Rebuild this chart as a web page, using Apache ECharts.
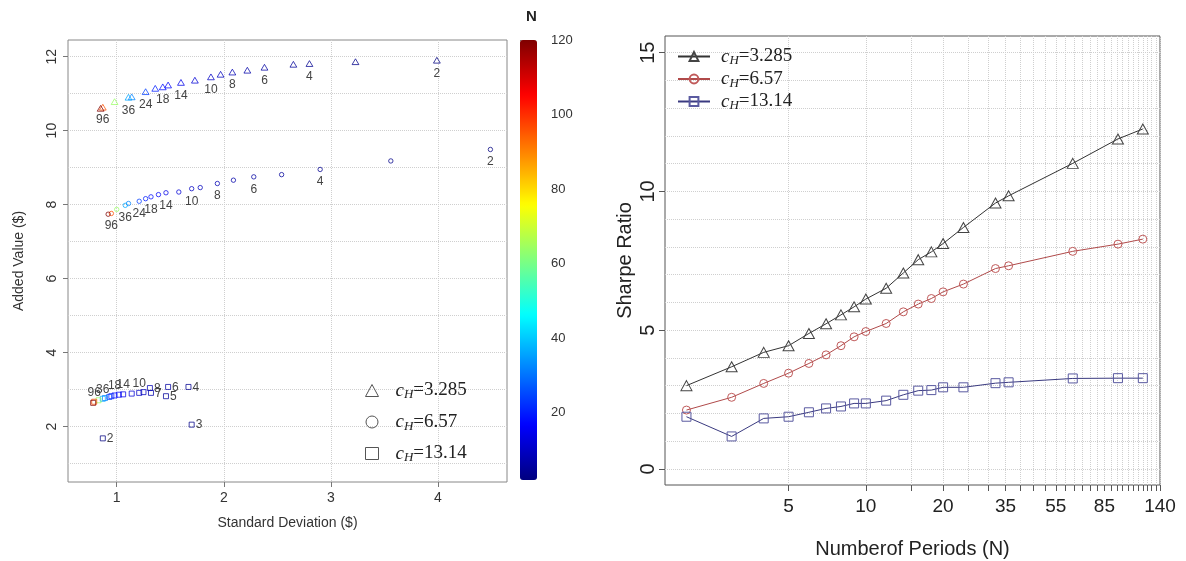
<!DOCTYPE html>
<html>
<head>
<meta charset="utf-8">
<script src="https://cdn.jsdelivr.net/npm/echarts@6/dist/echarts.min.js"></script>
<style>html,body{margin:0;padding:0;background:#fff}#c{width:1186px;height:561px}</style>
</head>
<body>
<div id="c"></div>
<script>
// ---- data ----
const N = [2,3,4,5,6,7,8,9,10,12,14,16,18,20,24,32,36,64,96,120];
const cH = ['3.285','6.57','13.14'];
// left panel: standard deviation ($) and added value ($)
const sdTri = [3.99,3.23,2.80,2.65,2.38,2.22,2.08,1.97,1.88,1.73,1.60,1.48,1.43,1.36,1.27,1.14,1.11,0.98,0.87,0.85];
const avTri = [11.89,11.85,11.80,11.78,11.70,11.62,11.57,11.51,11.44,11.35,11.29,11.22,11.17,11.13,11.04,10.90,10.89,10.77,10.62,10.59];
const sdCir = [4.49,3.56,2.90,2.54,2.28,2.09,1.94,1.78,1.70,1.58,1.46,1.39,1.32,1.27,1.21,1.11,1.08,1.00,0.95,0.92];
const avCir = [9.49,9.18,8.95,8.81,8.75,8.66,8.57,8.46,8.43,8.34,8.32,8.27,8.21,8.16,8.09,8.03,7.98,7.87,7.76,7.74];
const sdSq = [0.87,1.70,1.67,1.46,1.48,1.32,1.31,1.25,1.21,1.14,1.06,1.02,0.98,0.95,0.93,0.89,0.87,0.83,0.79,0.78];
const avSq = [1.68,2.05,3.07,2.82,3.07,2.91,3.04,2.93,2.91,2.89,2.87,2.86,2.84,2.82,2.80,2.77,2.75,2.71,2.67,2.64];
// right panel: Sharpe ratio
const srTri = [3.00,3.68,4.20,4.44,4.88,5.23,5.55,5.84,6.12,6.51,7.06,7.54,7.82,8.12,8.70,9.58,9.84,11.01,11.89,12.25];
const srCir = [2.12,2.58,3.08,3.45,3.80,4.11,4.44,4.76,4.95,5.24,5.66,5.94,6.14,6.38,6.66,7.22,7.32,7.84,8.10,8.28];
const srSq = [1.88,1.17,1.82,1.88,2.04,2.18,2.25,2.36,2.36,2.46,2.67,2.82,2.84,2.94,2.94,3.09,3.12,3.26,3.27,3.27];
// point labels
const triLabels = [2,4,6,8,10,14,18,24,36,96];
const cirLabels = [2,4,6,8,10,14,18,24,36,96];
const sqTopLabels = [10,14,18,36,96];
const sqRightLabels = [2,3,4,5,6,7,8];
// ticks
const leftXTicks = [1,2,3,4];
const leftYLabels = [2,4,6,8,10,12];
const leftYGrid = [1,2,3,4,5,6,7,8,9,10,11,12];
const cbTicks = [20,40,60,80,100,120];
const rightXTicks = [5,10,15,20,25,30,35,40,45,50,55,60,65,70,75,80,85,90,95,100,105,110,115,120,125,130,135,140];
const rightXLabels = [5,10,20,35,55,85,140];
const rightYLabels = [0,5,10,15];
const rightYGrid = [0,1,2,3,4,5,6,7,8,9,10,11,12,13,14,15];
const jet = ['#00007F','#0000FF','#007FFF','#00FFFF','#7FFF7F','#FFFF00','#FF7F00','#FF0000','#7F0000'];

const SANS = '"Liberation Sans", Arial, sans-serif';
const SERIF = '"Liberation Serif", "Times New Roman", serif';

function marker(kind, below, top, right) {
  return function (params, api) {
    const p = api.coord([api.value(0), api.value(1)]);
    const n = api.value(2);
    const color = api.visual('color');
    const st = {fill: 'none', stroke: color, lineWidth: 1, opacity: 0.75};
    const ch = [];
    if (kind === 'tri') {
      ch.push({type: 'polygon', shape: {points: [[p[0], p[1] - 3.4], [p[0] - 3.4, p[1] + 2.4], [p[0] + 3.4, p[1] + 2.4]]}, style: st});
    } else if (kind === 'cir') {
      ch.push({type: 'circle', shape: {cx: p[0], cy: p[1], r: 2.2}, style: st});
    } else {
      ch.push({type: 'rect', shape: {x: p[0] - 2.5, y: p[1] - 2.5, width: 5, height: 5}, style: st});
    }
    const font = '12px ' + SANS;
    if (below.indexOf(n) >= 0) ch.push({type: 'text', style: {text: String(n), x: p[0], y: p[1] + 12.5, align: 'center', verticalAlign: 'middle', fill: '#444', font: font}});
    if (top.indexOf(n) >= 0) ch.push({type: 'text', style: {text: String(n), x: p[0], y: p[1] - 9.5, align: 'center', verticalAlign: 'middle', fill: '#444', font: font}});
    if (right.indexOf(n) >= 0) ch.push({type: 'text', style: {text: String(n), x: p[0] + 4, y: p[1] + 0.5, align: 'left', verticalAlign: 'middle', fill: '#444', font: font}});
    return {type: 'group', children: ch};
  };
}

const rich = {
  c: {fontFamily: SERIF, fontStyle: 'italic', fontSize: 19, color: '#222'},
  h: {fontFamily: SERIF, fontStyle: 'italic', fontSize: 13, color: '#222', padding: [9, 0, 0, 0]},
  v: {fontFamily: SERIF, fontSize: 19, color: '#222'}
};
const legendFmt = name => '{c|c}{h|H}{v|=' + name.split(':')[1] + '}';

const gridLine = {show: true, lineStyle: {color: '#cfcfcf', type: 'dotted', width: 1}};

const option = {
  animation: false,
  backgroundColor: '#fff',
  title: {text: 'N', left: 521, top: 4, textStyle: {fontFamily: SANS, fontSize: 15, fontWeight: 'bold', color: '#222'}},
  grid: [
    {left: 68, top: 40, width: 439, height: 442, show: true, borderColor: '#888', borderWidth: 1, backgroundColor: 'transparent', containLabel: false, outerBoundsMode: 'none'},
    {left: 520, top: 40, width: 17, height: 440, show: false, containLabel: false, outerBoundsMode: 'none'},
    {left: 665, top: 36, width: 495, height: 449, show: true, borderColor: '#555', borderWidth: 1, backgroundColor: 'transparent', containLabel: false, outerBoundsMode: 'none'}
  ],
  xAxis: [
    {gridIndex: 0, type: 'value', min: 0.545, max: 4.645, position: 'bottom',
      axisLine: {show: false, onZero: false},
      axisTick: {show: true, customValues: leftXTicks, length: 5, lineStyle: {color: '#777'}},
      axisLabel: {customValues: leftXTicks, fontFamily: SANS, fontSize: 14, color: '#333', margin: 9},
      splitLine: gridLine,
      name: 'Standard Deviation ($)', nameLocation: 'middle', nameGap: 34,
      nameTextStyle: {fontFamily: SANS, fontSize: 14, color: '#333'}},
    {gridIndex: 1, type: 'value', min: 0, max: 1, show: false},
    {gridIndex: 2, type: 'log', logBase: 10, min: 1.65, max: 140, position: 'bottom',
      axisLine: {show: false, onZero: false},
      axisTick: {show: true, customValues: rightXTicks, length: 6, lineStyle: {color: '#555'}},
      axisLabel: {customValues: rightXLabels, fontFamily: SANS, fontSize: 19, color: '#222', margin: 12},
      splitLine: gridLine,
      name: 'Numberof Periods (N)', nameLocation: 'middle', nameGap: 54,
      nameTextStyle: {fontFamily: SANS, fontSize: 20, color: '#222'}}
  ],
  yAxis: [
    {gridIndex: 0, type: 'value', min: 0.5, max: 12.45, position: 'left',
      axisLine: {show: false, onZero: false},
      axisTick: {show: true, customValues: leftYLabels, length: 5, lineStyle: {color: '#777'}},
      axisLabel: {customValues: leftYLabels, rotate: 90, fontFamily: SANS, fontSize: 14, color: '#333', margin: 9},
      splitLine: {show: false},
      name: 'Added Value ($)', nameLocation: 'middle', nameGap: 42, nameRotate: 90,
      nameTextStyle: {fontFamily: SANS, fontSize: 14, color: '#333'}},
    {gridIndex: 0, type: 'value', min: 0.5, max: 12.45, position: 'left',
      axisLine: {show: false, onZero: false},
      axisTick: {show: false, customValues: leftYGrid},
      axisLabel: {show: false}, splitLine: gridLine},
    {gridIndex: 1, type: 'value', min: 2, max: 120, position: 'right',
      axisLine: {show: false},
      axisTick: {show: true, customValues: cbTicks, length: 7, lineStyle: {color: '#777'}},
      axisLabel: {customValues: cbTicks, fontFamily: SANS, fontSize: 13, color: '#333', margin: 14},
      splitLine: {show: false}},
    {gridIndex: 2, type: 'value', min: -0.58, max: 15.6, position: 'left',
      axisLine: {show: false, onZero: false},
      axisTick: {show: true, customValues: rightYLabels, length: 6, lineStyle: {color: '#555'}},
      axisLabel: {customValues: rightYLabels, rotate: 90, fontFamily: SANS, fontSize: 20, color: '#222', margin: 7},
      splitLine: {show: false},
      name: 'Sharpe Ratio', nameLocation: 'middle', nameGap: 30, nameRotate: 90,
      nameTextStyle: {fontFamily: SANS, fontSize: 20, color: '#222'}},
    {gridIndex: 2, type: 'value', min: -0.58, max: 15.6, position: 'left',
      axisLine: {show: false, onZero: false},
      axisTick: {show: false, customValues: rightYGrid},
      axisLabel: {show: false}, splitLine: gridLine}
  ],
  visualMap: {
    type: 'continuous', min: 2, max: 120, dimension: 2, seriesIndex: [0, 1, 2],
    inRange: {color: jet}, calculable: false, orient: 'vertical',
    left: 520, top: 40, itemWidth: 17, itemHeight: 440, padding: 0, text: null,
    hoverLink: false
  },
  legend: [
    {orient: 'vertical', left: 360, top: 376, itemWidth: 13, itemHeight: 12, itemGap: 11,
      data: [
        {name: 'L:' + cH[0], icon: 'triangle', itemStyle: {color: 'rgba(0,0,0,0)', borderColor: '#555', borderWidth: 1}},
        {name: 'L:' + cH[1], icon: 'circle', itemStyle: {color: 'rgba(0,0,0,0)', borderColor: '#555', borderWidth: 1}},
        {name: 'L:' + cH[2], icon: 'rect', itemStyle: {color: 'rgba(0,0,0,0)', borderColor: '#555', borderWidth: 1}}
      ],
      formatter: legendFmt, textStyle: {rich: rich, padding: [0, 0, 0, 12]}},
    {orient: 'vertical', left: 672, top: 42, itemWidth: 32, itemHeight: 11, itemGap: 2,
      data: ['R:' + cH[0], 'R:' + cH[1], 'R:' + cH[2]],
      formatter: legendFmt, textStyle: {rich: rich, padding: [0, 0, 0, 6]}}
  ],
  series: [
    {type: 'custom', name: 'L:' + cH[0], xAxisIndex: 0, yAxisIndex: 0, encode: {x: 0, y: 1},
      data: N.map((n, i) => [sdTri[i], avTri[i], n]), renderItem: marker('tri', triLabels, [], [])},
    {type: 'custom', name: 'L:' + cH[1], xAxisIndex: 0, yAxisIndex: 0, encode: {x: 0, y: 1},
      data: N.map((n, i) => [sdCir[i], avCir[i], n]), renderItem: marker('cir', cirLabels, [], [])},
    {type: 'custom', name: 'L:' + cH[2], xAxisIndex: 0, yAxisIndex: 0, encode: {x: 0, y: 1},
      data: N.map((n, i) => [sdSq[i], avSq[i], n]), renderItem: marker('sq', [], sqTopLabels, sqRightLabels)},
    {type: 'line', name: 'R:' + cH[0], xAxisIndex: 2, yAxisIndex: 3,
      data: N.map((n, i) => [n, srTri[i]]), symbol: 'triangle', symbolSize: [11, 10],
      itemStyle: {color: 'rgba(255,255,255,0)', borderColor: '#444', borderWidth: 1},
      lineStyle: {color: '#333', width: 1}},
    {type: 'line', name: 'R:' + cH[1], xAxisIndex: 2, yAxisIndex: 3,
      data: N.map((n, i) => [n, srCir[i]]), symbol: 'circle', symbolSize: 8,
      itemStyle: {color: 'rgba(255,255,255,0)', borderColor: '#c05a5a', borderWidth: 1},
      lineStyle: {color: '#b04a4a', width: 1}},
    {type: 'line', name: 'R:' + cH[2], xAxisIndex: 2, yAxisIndex: 3,
      data: N.map((n, i) => [n, srSq[i]]), symbol: 'rect', symbolSize: 9,
      itemStyle: {color: 'rgba(255,255,255,0)', borderColor: '#5a5aa0', borderWidth: 1},
      lineStyle: {color: '#3a3a80', width: 1}}
  ]
};
const chart = echarts.init(document.getElementById('c'));
chart.setOption(option);
</script>
</body>
</html>
